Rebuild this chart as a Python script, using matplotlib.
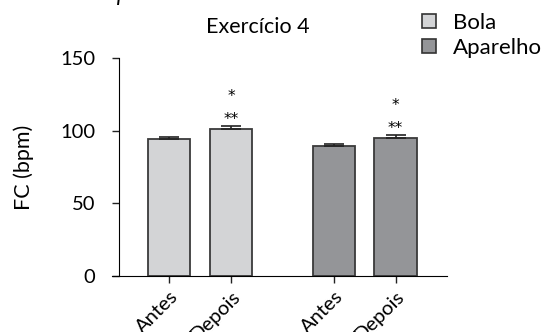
import numpy as np
import matplotlib
matplotlib.use('Agg')
import matplotlib.pyplot as plt
from matplotlib.patches import Patch

plt.rcParams['font.family'] = ['Lato', 'DejaVu Sans']

labels = ['Antes', 'Depois', 'Antes', 'Depois']
values = [94.3, 101.3, 89.6, 95.3]
errors = [1.5, 2.0, 1.4, 1.9]
groups = ['Bola', 'Bola', 'Aparelho', 'Aparelho']
stars_top = ['', '*', '', '*']
stars_low = ['', '**', '', '**']

colors = {'Bola': '#d3d4d6', 'Aparelho': '#949598'}
pos = np.array([0, 1, 2.66, 3.65])

fig = plt.figure(figsize=(5.46, 3.32), dpi=100)
ax = fig.add_axes([0.2051, 0.1696, 0.6136, 0.6551])

for x, v, e, g in zip(pos, values, errors, groups):
    ax.bar(x, v, width=0.68, color=colors[g], edgecolor='#3a3a3a', linewidth=1.3, zorder=2)
    ax.errorbar(x, v, yerr=[[0], [e]], fmt='none', ecolor='#222222', elinewidth=1.2,
                capsize=7.5, capthick=1.2, zorder=3)

# asterisks above the "Depois" bars
for x, v, e, s1, s2 in zip(pos, values, errors, stars_top, stars_low):
    if s2:
        ax.text(x, v + e + 4.5, s2, ha='center', va='center', fontsize=11,
                family='DejaVu Sans')
        ax.text(x, v + e + 20.5, s1, ha='center', va='center', fontsize=11,
                family='DejaVu Sans')

ax.set_xlim(-0.92, 4.48)
ax.set_ylim(0, 150)
ax.set_yticks([0, 50, 100, 150])
ax.set_xticks(pos)
ax.set_xticklabels(labels, rotation=45, ha='right', va='top', rotation_mode='anchor')
ax.tick_params(axis='both', labelsize=14.5, length=5, width=1, color='#222222')
ax.tick_params(axis='y', pad=12)
ax.tick_params(axis='x', pad=4)
ax.spines['top'].set_visible(False)
ax.spines['right'].set_visible(False)
ax.spines['left'].set_position(('data', -0.81))
ax.spines['left'].set_bounds(0, 150)
ax.set_ylabel('FC (bpm)', fontsize=15.5, labelpad=19)

fig.text(0.4716, 0.8997, 'Exercício 4', ha='center', va='baseline', fontsize=15.5)
fig.text(0.217, 0.985, 'I', ha='center', va='baseline', fontsize=15, style='italic')

handles = [Patch(facecolor=colors['Bola'], edgecolor='#333333', linewidth=1.2),
           Patch(facecolor=colors['Aparelho'], edgecolor='#333333', linewidth=1.2)]
fig.legend(handles, ['Bola', 'Aparelho'], loc='upper left', bbox_to_anchor=(0.765, 0.975),
           frameon=False, fontsize=16, handlelength=0.62, handleheight=0.62,
           handletextpad=0.75, labelspacing=0.22, borderaxespad=0.0, borderpad=0.2)

fig.savefig('out.png', dpi=100)
